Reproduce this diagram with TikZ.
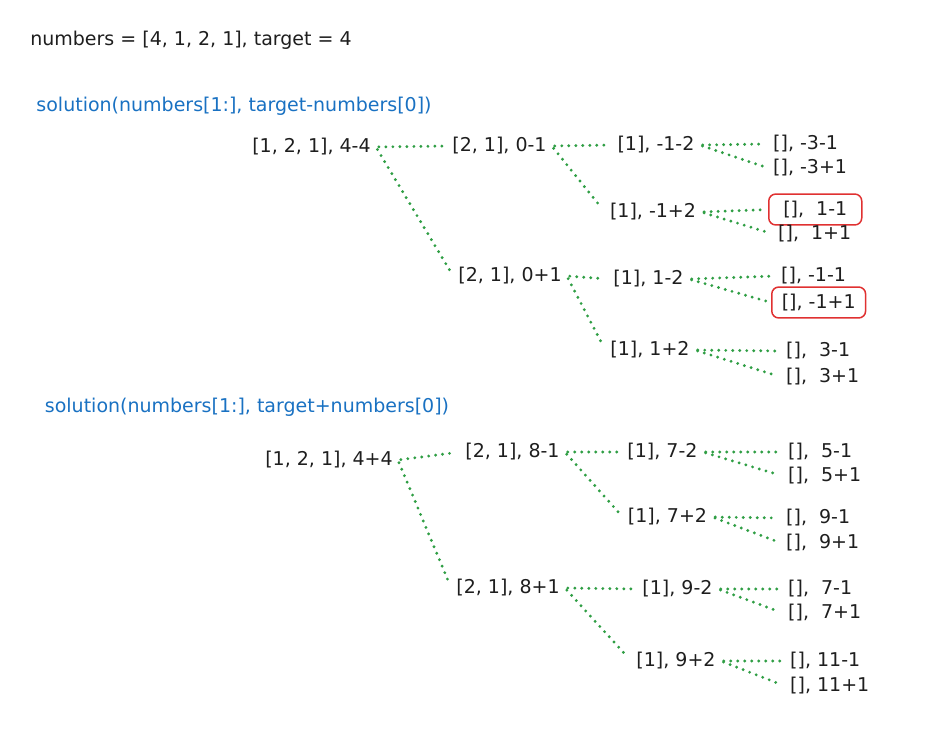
\documentclass[tikz,border=0pt]{standalone}
\usepackage{fontspec}
\setmainfont{DejaVu Sans}
\definecolor{ink}{HTML}{1E1E1E}
\definecolor{codeblue}{HTML}{1971C2}
\definecolor{linkgreen}{HTML}{2F9E44}
\definecolor{hitred}{HTML}{E03131}
\begin{document}
\begin{tikzpicture}[x=1pt,y=-1pt,font=\fontsize{19}{23}\selectfont,
  every node/.style={text=ink,inner sep=5pt},
  call/.style={text=codeblue},
  leaf/.style={anchor=west},
  link/.style={draw=linkgreen,line width=3.2pt,line cap=round,dash pattern=on 0pt off 7pt,shorten <=3pt,shorten >=5pt},
  hit/.style={leaf,draw=hitred,line width=1.5pt,rounded corners=7pt,inner xsep=10pt,inner ysep=7pt}]
\useasboundingbox (0,0) rectangle (932,739);
\node (given) at (191,40) {numbers = [4, 1, 2, 1], target = 4};
\node[call] (callminus) at (234,106) {solution(numbers[1:], target-numbers[0])};
\node (root1) at (311.5,147) {[1, 2, 1], 4-4};
\node (a) at (499.5,146) {[2, 1], 0-1};
\node (b) at (510,276) {[2, 1], 0+1};
\node (aa) at (656,145) {[1], -1-2};
\node (ab) at (653,212) {[1], -1+2};
\node (ba) at (648.5,279) {[1], 1-2};
\node (bb) at (650,350) {[1], 1+2};
\node[leaf] (aaa) at (768,144) {[], -3-1};
\node[leaf] (aab) at (768,168) {[], -3+1};
\node[hit,minimum width=93pt] (aba) at (768,209.5) {[], \ 1-1};
\node[leaf] (abb) at (773,234) {[], \ 1+1};
\node[leaf] (baa) at (776,276) {[], -1-1};
\node[hit] (bab) at (771,302.5) {[], -1+1};
\node[leaf] (bba) at (781,351) {[], \ 3-1};
\node[leaf] (bbb) at (781,377) {[], \ 3+1};
\draw[link] (root1.east) -- (a.west);
\draw[link] (root1.east) -- (b.west);
\draw[link] (a.east) -- (aa.west);
\draw[link] (a.east) -- (ab.west);
\draw[link] (b.east) -- (ba.west);
\draw[link] (b.east) -- (bb.west);
\draw[link] (aa.east) -- (aaa.west);
\draw[link] (aa.east) -- (aab.west);
\draw[link] (ab.east) -- (aba.west);
\draw[link] (ab.east) -- (abb.west);
\draw[link] (ba.east) -- (baa.west);
\draw[link] (ba.east) -- (bab.west);
\draw[link] (bb.east) -- (bba.west);
\draw[link] (bb.east) -- (bbb.west);
\node[call] (callplus) at (247,407) {solution(numbers[1:], target+numbers[0])};
\node (root2) at (329,460) {[1, 2, 1], 4+4};
\node (c) at (512.5,452) {[2, 1], 8-1};
\node (d) at (508,588) {[2, 1], 8+1};
\node (ca) at (662.5,452) {[1], 7-2};
\node (cb) at (667.5,517) {[1], 7+2};
\node (da) at (677.5,589) {[1], 9-2};
\node (db) at (676,661) {[1], 9+2};
\node[leaf] (caa) at (783,452) {[], \ 5-1};
\node[leaf] (cab) at (783,476) {[], \ 5+1};
\node[leaf] (cba) at (781,518) {[], \ 9-1};
\node[leaf] (cbb) at (781,543) {[], \ 9+1};
\node[leaf] (daa) at (783,589) {[], \ 7-1};
\node[leaf] (dab) at (783,613) {[], \ 7+1};
\node[leaf] (dba) at (785,661) {[], 11-1};
\node[leaf] (dbb) at (785,686) {[], 11+1};
\draw[link] (root2.east) -- (c.west);
\draw[link] (root2.east) -- (d.west);
\draw[link] (c.east) -- (ca.west);
\draw[link] (c.east) -- (cb.west);
\draw[link] (d.east) -- (da.west);
\draw[link] (d.east) -- (db.west);
\draw[link] (ca.east) -- (caa.west);
\draw[link] (ca.east) -- (cab.west);
\draw[link] (cb.east) -- (cba.west);
\draw[link] (cb.east) -- (cbb.west);
\draw[link] (da.east) -- (daa.west);
\draw[link] (da.east) -- (dab.west);
\draw[link] (db.east) -- (dba.west);
\draw[link] (db.east) -- (dbb.west);
\end{tikzpicture}
\end{document}
